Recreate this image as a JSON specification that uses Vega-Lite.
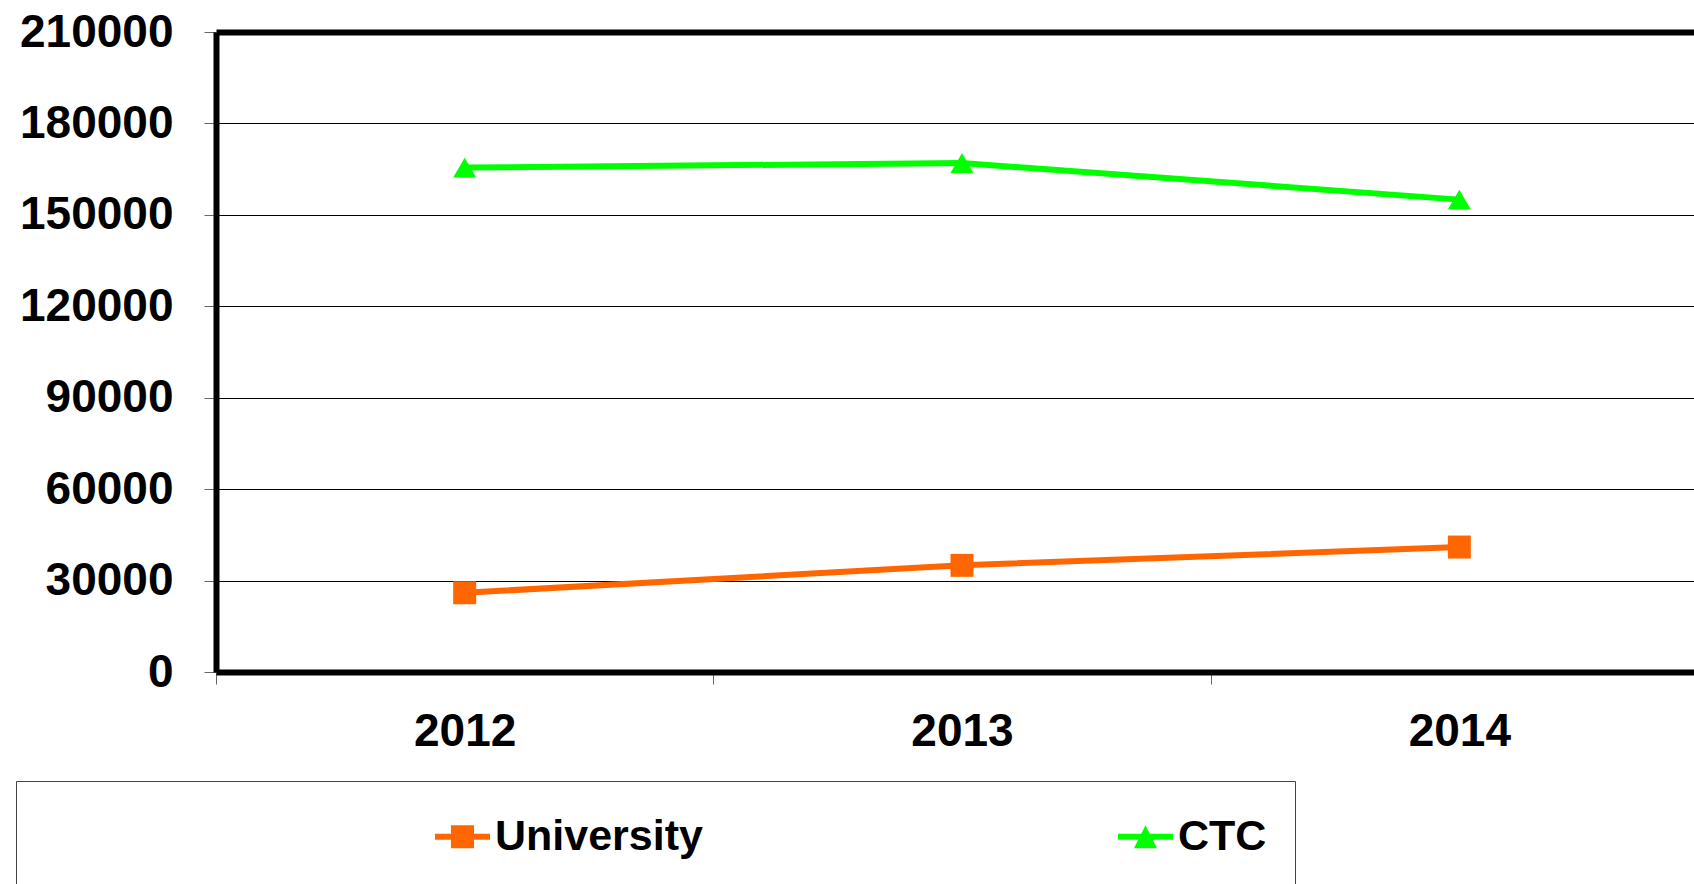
{
  "$schema": "https://vega.github.io/schema/vega-lite/v6.json",
  "width": 1478,
  "height": 640,
  "autosize": {"type": "none"},
  "padding": {"left": 216, "top": 32, "right": 0, "bottom": 212},
  "background": "white",
  "config": {"view": {"stroke": null}, "font": "Liberation Sans"},
  "data": {
    "values": [
      {"year": "2012", "series": "University", "value": 26000},
      {"year": "2013", "series": "University", "value": 35000},
      {"year": "2014", "series": "University", "value": 41000},
      {"year": "2012", "series": "CTC", "value": 165500},
      {"year": "2013", "series": "CTC", "value": 167000},
      {"year": "2014", "series": "CTC", "value": 155000}
    ]
  },
  "encoding": {
    "x": {
      "field": "year",
      "type": "ordinal",
      "scale": {"type": "band", "paddingInner": 0, "paddingOuter": 0, "range": [0, 1492]},
      "axis": {
        "title": null,
        "labelAngle": 0,
        "tickBand": "extent",
        "labelFontSize": 46,
        "labelFontWeight": "bold",
        "labelColor": "black",
        "labelPadding": 25,
        "tickSize": 12,
        "tickColor": "#666",
        "domainColor": "black",
        "domainWidth": 6,
        "grid": false
      }
    },
    "y": {
      "field": "value",
      "type": "quantitative",
      "scale": {"domain": [0, 210000], "nice": false},
      "axis": {
        "title": null,
        "values": [0, 30000, 60000, 90000, 120000, 150000, 180000, 210000],
        "format": "d",
        "labelFontSize": 46,
        "labelFontWeight": "bold",
        "labelColor": "black",
        "labelPadding": 31,
        "tickSize": 12,
        "tickColor": "#666",
        "domainColor": "black",
        "domainWidth": 6,
        "grid": true,
        "gridColor": "black",
        "gridOpacity": 1,
        "gridWidth": {"condition": {"test": "datum.value === 210000", "value": 6}, "value": 1}
      }
    },
    "color": {
      "field": "series",
      "type": "nominal",
      "scale": {"domain": ["University", "CTC"], "range": ["#FF6600", "#00FF00"]},
      "legend": {
        "orient": "none",
        "legendX": -200,
        "legendY": 749,
        "direction": "horizontal",
        "columns": 2,
        "gridAlign": "all",
        "title": null,
        "padding": 28,
        "strokeColor": "#444",
        "fillColor": "white",
        "symbolOffset": 391,
        "columnPadding": 24,
        "labelFontSize": 43,
        "labelFontWeight": "bold",
        "labelColor": "black",
        "labelOffset": 5,
        "labelLimit": 600,
        "symbolSize": 3025,
        "symbolStrokeWidth": 0,
        "symbolOpacity": 1
      }
    }
  },
  "layer": [
    {"mark": {"type": "line", "strokeWidth": 6}},
    {
      "mark": {"type": "point", "filled": true, "size": 529, "opacity": 1},
      "encoding": {
        "shape": {"condition": {"test": "datum.series === 'CTC'", "value": "triangle-up"}, "value": "square"}
      }
    },
    {
      "transform": [{"filter": "false"}],
      "mark": {"type": "point", "filled": true, "opacity": 1},
      "encoding": {
        "shape": {
          "field": "series",
          "type": "nominal",
          "scale": {
            "domain": ["University", "CTC"],
            "range": [
              "M-0.42,-0.42H0.42V0.42H-0.42Z M-1,-0.11H1V0.11H-1Z",
              "M0,-0.42L0.42,0.42H-0.42Z M-1,-0.11H1V0.11H-1Z"
            ]
          },
          "legend": {
            "orient": "none",
            "legendX": -200,
            "legendY": 749,
            "direction": "horizontal",
            "columns": 2,
            "gridAlign": "all",
            "title": null,
            "padding": 28,
            "strokeColor": "#444",
            "fillColor": "white",
            "symbolOffset": 391,
            "columnPadding": 24,
            "labelFontSize": 43,
            "labelFontWeight": "bold",
            "labelColor": "black",
            "labelOffset": 5,
            "labelLimit": 600,
            "symbolSize": 3025,
            "symbolStrokeWidth": 0,
            "symbolOpacity": 1
          }
        }
      }
    }
  ]
}
